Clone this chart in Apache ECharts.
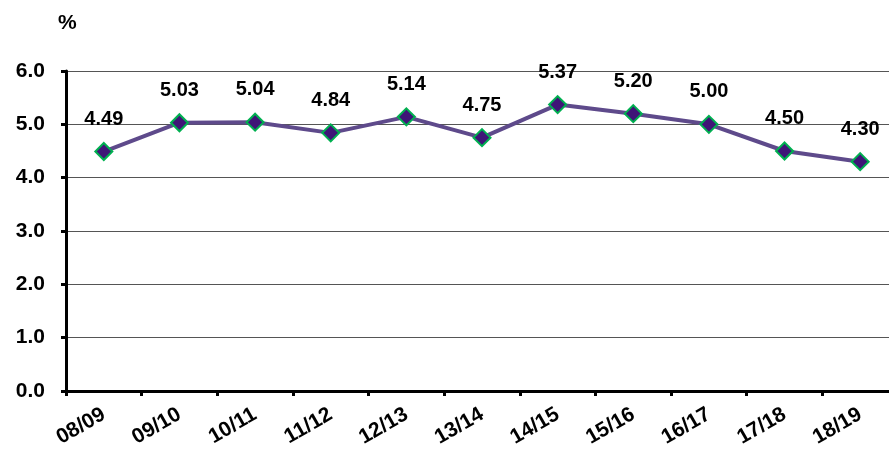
<!DOCTYPE html>
<html><head><meta charset="utf-8">
<script src="https://cdn.jsdelivr.net/npm/echarts@6/dist/echarts.min.js"></script>
<style>html,body{margin:0;padding:0;background:#fff;overflow:hidden;width:889px;height:459px}#c{width:898px;height:459px}</style>
</head><body><div id="c"></div>
<script>
const categories = ['08/09','09/10','10/11','11/12','12/13','13/14','14/15','15/16','16/17','17/18','18/19'];
const values = [4.49,5.03,5.04,4.84,5.14,4.75,5.37,5.20,5.00,4.50,4.30];
const yTicks = [0,1,2,3,4,5,6];
const unitLabel = '%';

const chart = echarts.init(document.getElementById('c'), null, {renderer:'canvas'});
const font = 'Liberation Sans, Arial, sans-serif';
chart.setOption({
  animation:false,
  backgroundColor:'#fff',
  title:{text:unitLabel,left:53,top:8,textStyle:{fontFamily:font,fontWeight:'bold',fontSize:21,color:'#000'}},
  grid:{left:66,right:0,top:71,bottom:68,containLabel:false},
  xAxis:{type:'category',data:categories,boundaryGap:true,
    axisLine:{lineStyle:{color:'#000',width:3}},
    axisTick:{show:true,length:5,lineStyle:{color:'#000',width:3}},
    axisLabel:{rotate:30,margin:22,fontFamily:font,fontWeight:'bold',fontSize:21,color:'#000'}},
  yAxis:{type:'value',min:yTicks[0],max:yTicks[yTicks.length-1],interval:1,
    axisLine:{show:true,lineStyle:{color:'#000',width:3}},
    axisTick:{show:true,length:5,lineStyle:{color:'#000',width:3}},
    splitLine:{lineStyle:{color:'#555',width:1}},
    axisLabel:{margin:21,fontFamily:font,fontWeight:'bold',fontSize:21,color:'#000',formatter:v=>v.toFixed(1)}},
  series:[{type:'line',data:values,symbol:'diamond',symbolSize:17,
    lineStyle:{color:'#5E4A8B',width:4},
    itemStyle:{color:'#3F1577',borderColor:'#00B050',borderWidth:2},
    label:{show:true,position:'top',distance:13,fontFamily:font,fontWeight:'bold',fontSize:20,color:'#000',formatter:p=>p.value.toFixed(2)},
    z:3}]
});
</script></body></html>
